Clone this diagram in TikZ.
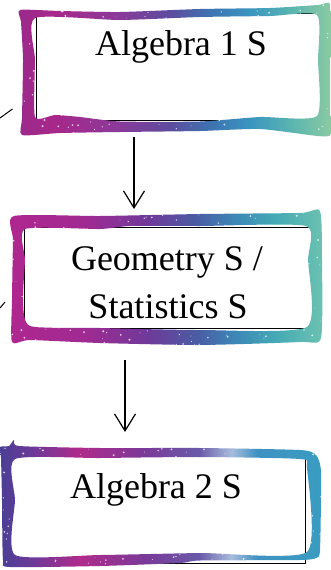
\documentclass[tikz,border=0pt]{standalone}
\usepackage{fontspec}
\setmainfont{Liberation Serif}
\usetikzlibrary{arrows.meta}

% colours of box 1
\definecolor{aA}{HTML}{9A2A8C}
\definecolor{aB}{HTML}{A8278A}
\definecolor{aC}{HTML}{8A3A9A}
\definecolor{aD}{HTML}{5E4A9E}
\definecolor{aE}{HTML}{3E72B0}
\definecolor{aF}{HTML}{3A95C0}
\definecolor{aG}{HTML}{5AB5B0}
\definecolor{aH}{HTML}{8CCBA2}
% colours of box 2
\definecolor{bA}{HTML}{B0268F}
\definecolor{bB}{HTML}{A02A92}
\definecolor{bC}{HTML}{6E3A9A}
\definecolor{bD}{HTML}{4A5CA4}
\definecolor{bE}{HTML}{3C86B6}
\definecolor{bF}{HTML}{45AAB5}
\definecolor{bG}{HTML}{6CC2B0}
% colours of box 3
\definecolor{cA}{HTML}{4A3F95}
\definecolor{cB}{HTML}{6A3A98}
\definecolor{cC}{HTML}{B02A8C}
\definecolor{cD}{HTML}{7A3A98}
\definecolor{cE}{HTML}{6A5AA8}
\definecolor{cF}{HTML}{A8BCDC}
\definecolor{cG}{HTML}{3E92C2}
\definecolor{cH}{HTML}{3A9CC0}

\pgfdeclarehorizontalshading{glowA}{100bp}{color(0bp)=(aA); color(25bp)=(aA); color(31bp)=(aB); color(41bp)=(aC); color(49bp)=(aD); color(55.5bp)=(aE); color(62bp)=(aF); color(68.5bp)=(aG); color(75bp)=(aH); color(100bp)=(aH)}
\pgfdeclarehorizontalshading{glowB}{100bp}{color(0bp)=(bA); color(25bp)=(bA); color(37.5bp)=(bB); color(47.5bp)=(bC); color(55bp)=(bD); color(61bp)=(bE); color(67.5bp)=(bF); color(75bp)=(bG); color(100bp)=(bG)}
\pgfdeclarehorizontalshading{glowC}{100bp}{color(0bp)=(cA); color(25bp)=(cA); color(30bp)=(cB); color(37.5bp)=(cC); color(47.5bp)=(cD); color(56bp)=(cE); color(61bp)=(cF); color(65bp)=(cG); color(75bp)=(cH); color(100bp)=(cH)}

\newcommand\ringAout{plot[smooth cycle,tension=0.35] coordinates{(20,10) (60,11) (120,12) (200,9) (270,8) (318,5) (330,4) (331,40) (330,100) (331,134) (318,136) (260,129) (200,131) (120,132) (60,133) (22,135) (22,118) (23,60) (21,22)}}
\newcommand\ringAin{plot[smooth cycle,tension=0.35] coordinates{(35,18) (120,20) (200,17) (270,16) (317,15) (318,60) (317,116) (260,117) (200,121.5) (120,121.5) (80,117) (55,115) (35,117) (35,60)}}

\newcommand\ringBout{plot[smooth cycle,tension=0.35] coordinates{(14,216) (100,216) (200,214) (300,213) (320,211) (322,260) (321,338) (300,342) (200,345) (100,343) (30,340) (12,342) (12,300) (13,240)}}
\newcommand\ringBin{plot[smooth cycle,tension=0.35] coordinates{(25,229) (100,229) (130,226) (200,226) (306,226) (308,260) (307,327) (200,330) (100,328) (30,326) (23,300) (25,260)}}

\newcommand\ringCout{plot[smooth cycle,tension=0.35] coordinates{(0,447) (9,446) (14,440) (19,446) (100,448) (200,448) (300,450) (316,455) (321,472) (320,550) (316,558) (300,560) (200,560.5) (180,563) (100,566) (10,567) (3,560) (2,500) (1,458)}}
\newcommand\ringCin{plot[smooth cycle,tension=0.35] coordinates{(15,459) (100,458) (200,457) (300,459) (307,468) (307,552) (200,553) (100,555) (15,555) (15,500)}}

\tikzset{
  textlabel/.style={font=\fontsize{36}{40}\selectfont, inner sep=0pt, anchor=base},
  framerect/.style={draw=black, line width=0.8pt},
  flow/.style={line width=1.2pt, -{Straight Barb[length=17pt,width=21pt,line width=1.2pt]}},
  tick/.style={line width=1pt},
  sparkle/.style={white, opacity=0.75},
}

\begin{document}
\begin{tikzpicture}[x=1pt,y=-1pt]
\useasboundingbox (0,0) rectangle (331,570);
\fill[white] (0,0) rectangle (331,570);
\pgfmathsetseed{7}

% thin black frames (under the painted borders)
\draw[framerect] (36.5,13) rectangle (320,120);
\draw[framerect] (24,227) rectangle (313,328);
\draw[framerect] (10,455) rectangle (305,563);

% painted borders
\shade[shading=glowA, even odd rule] \ringAout \ringAin;
\shade[shading=glowB, even odd rule] \ringBout \ringBin;
\shade[shading=glowC, even odd rule] \ringCout \ringCin;

% glitter
\begin{scope}[even odd rule]
\clip \ringAout \ringAin;
\foreach \i in {1,...,260}{
  \pgfmathsetmacro\px{18+rnd*314}
  \pgfmathsetmacro\py{3+rnd*134}
  \pgfmathsetmacro\pr{0.35+rnd*0.8}
  \fill[sparkle] (\px,\py) circle (\pr pt);
}
\end{scope}
\begin{scope}[even odd rule]
\clip \ringBout \ringBin;
\foreach \i in {1,...,260}{
  \pgfmathsetmacro\px{10+rnd*314}
  \pgfmathsetmacro\py{209+rnd*138}
  \pgfmathsetmacro\pr{0.35+rnd*0.8}
  \fill[sparkle] (\px,\py) circle (\pr pt);
}
\end{scope}
\begin{scope}[even odd rule]
\clip \ringCout \ringCin;
\foreach \i in {1,...,260}{
  \pgfmathsetmacro\px{0+rnd*323}
  \pgfmathsetmacro\py{438+rnd*131}
  \pgfmathsetmacro\pr{0.35+rnd*0.8}
  \fill[sparkle] (\px,\py) circle (\pr pt);
}
\end{scope}

% texts
\node[textlabel] (alg1) at (181,55) {Algebra 1 S};
\node[textlabel] (geo) at (167,270) {Geometry S /};
\node[textlabel] (stat) at (168,318) {Statistics S};
\node[textlabel] (alg2) at (156,498) {Algebra 2 S};

% arrows
\coordinate (a1s) at (134,137);
\coordinate (a1e) at (134,209);
\coordinate (a2s) at (125,360);
\coordinate (a2e) at (125,432);
\draw[flow] (a1s) -- (a1e);
\draw[flow] (a2s) -- (a2e);

% cut-off connectors at the left edge
\coordinate (t1s) at (0,118);
\coordinate (t1e) at (12.5,109);
\coordinate (t2s) at (0,308);
\coordinate (t2e) at (5,302);
\draw[tick] (t1s) -- (t1e);
\draw[tick] (t2s) -- (t2e);
\end{tikzpicture}
\end{document}
